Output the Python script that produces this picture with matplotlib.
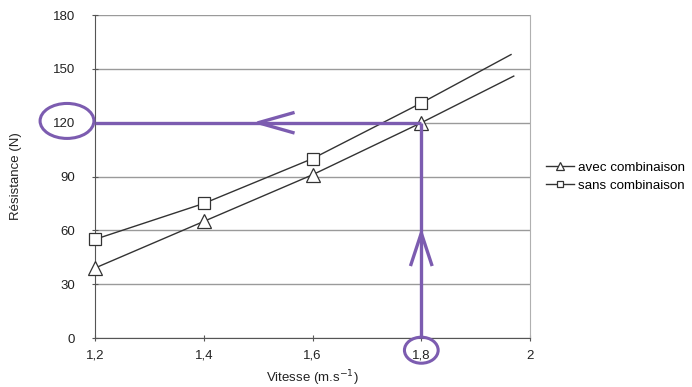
import matplotlib
matplotlib.use("Agg")
import matplotlib.pyplot as plt
from matplotlib.patches import Ellipse

plt.rcParams['font.family'] = ['Liberation Sans', 'DejaVu Sans']

# Data
vitesse = [1.2, 1.4, 1.6, 1.8, 1.97]
avec = [39, 65, 91, 120, 146]
vitesse_sans = [1.2, 1.4, 1.6, 1.8, 1.965]
sans = [55, 75, 100, 131, 158]
x_ticks = [1.2, 1.4, 1.6, 1.8, 2.0]
x_labels = ['1,2', '1,4', '1,6', '1,8', '2']
y_ticks = [0, 30, 60, 90, 120, 150, 180]

purple = '#7c5cb0'

fig = plt.figure(figsize=(6.92, 3.87), dpi=100)
ax = fig.add_axes([0.1373, 0.1266, 0.766 - 0.1373, 0.961 - 0.1266])

ax.set_xlim(1.2, 2.0)
ax.set_ylim(0, 180)
ax.set_yticks(y_ticks)
ax.set_xticks(x_ticks)
ax.set_xticklabels(x_labels)
ax.yaxis.grid(True, color='#9a9a9a', linewidth=1.0)
ax.set_axisbelow(True)
ax.spines['top'].set_visible(False)
ax.spines['right'].set_color('#b0b0b0')
ax.spines['left'].set_color('#555555')
ax.spines['bottom'].set_color('#555555')
ax.tick_params(axis='both', direction='inout', length=5, color='#555555',
               labelsize=9.5, labelcolor='#222222')
ax.tick_params(axis='x', pad=6)
ax.tick_params(axis='y', pad=12)

ax.plot(vitesse, avec, color='#333333', lw=1.0, marker='^', markersize=10,
        markerfacecolor='white', markeredgecolor='#333333', markeredgewidth=0.9,
        markevery=[0, 1, 2, 3], label='avec combinaison', zorder=3, clip_on=False)
ax.plot(vitesse_sans, sans, color='#333333', lw=1.0, marker='s', markersize=9,
        markerfacecolor='white', markeredgecolor='#333333', markeredgewidth=0.9,
        markevery=[0, 1, 2, 3], label='sans combinaison', zorder=3, clip_on=False)

# Purple reading lines
ax.plot([1.2, 1.8], [120, 120], color=purple, lw=2.4, zorder=4, solid_capstyle='butt')
ax.plot([1.8, 1.8], [0, 120], color=purple, lw=2.4, zorder=4, solid_capstyle='butt')
# Arrow chevrons
ax.plot([1.564, 1.5, 1.564], [125.5, 120, 114.5], color=purple, lw=2.4, zorder=4)
ax.plot([1.781, 1.8, 1.819], [41.0, 58.5, 41.0], color=purple, lw=2.4, zorder=4)
# Ellipses
ax.add_patch(Ellipse((1.1485, 121), 0.099, 19.5, fill=False, edgecolor=purple,
                     lw=2.2, clip_on=False, zorder=5))
ax.add_patch(Ellipse((1.8, -6.8), 0.062, 14.5, fill=False, edgecolor=purple,
                     lw=2.2, clip_on=False, zorder=5))

ax.set_xlabel('Vitesse (m.s$^{-1}$)', fontsize=9.5, color='#222222', labelpad=5)
ax.set_ylabel('Résistance (N)', fontsize=9.5, color='#222222', labelpad=22)

leg = ax.legend(loc='center left', bbox_to_anchor=(1.01, 0.50), frameon=False,
                fontsize=9.6, handlelength=2.1, handletextpad=0.3,
                labelspacing=0.45, markerscale=0.55)

fig.savefig('out.png', dpi=100)
